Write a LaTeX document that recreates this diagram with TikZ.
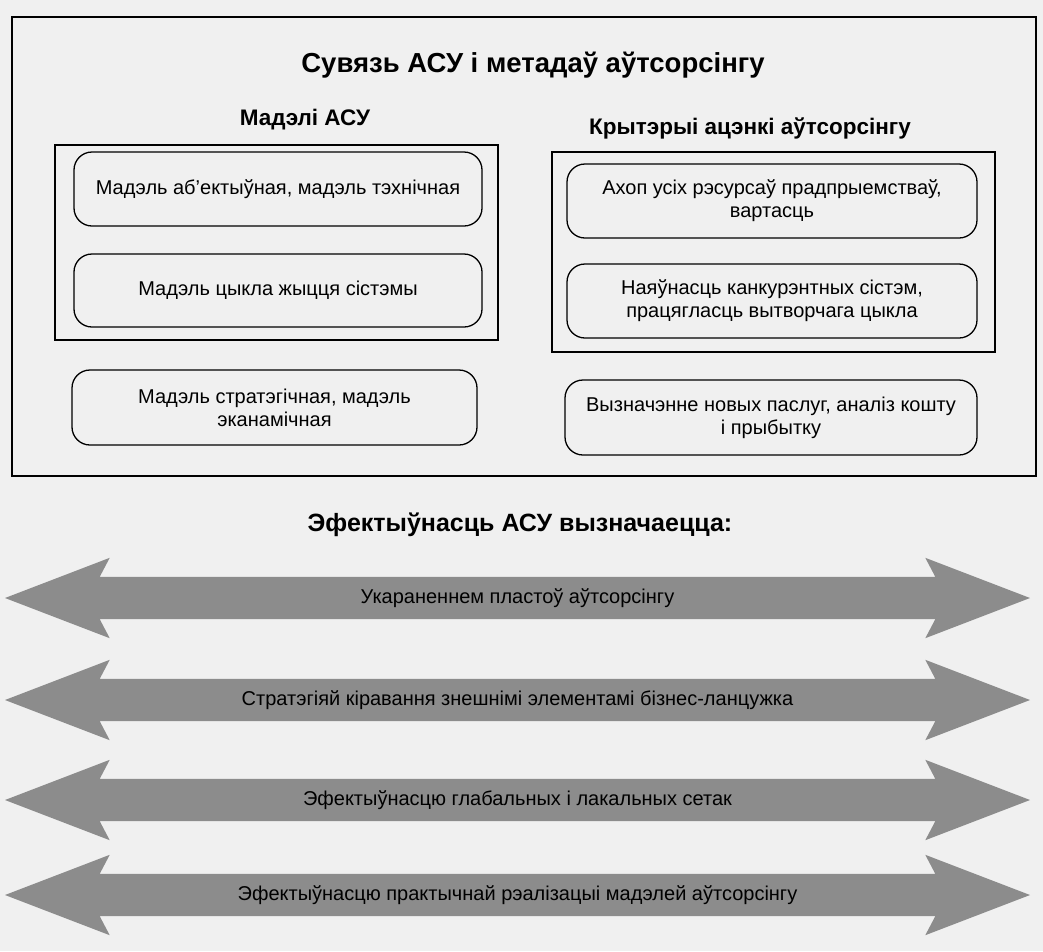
\documentclass[tikz,border=0pt]{standalone}
\usepackage{fontspec}
\setmainfont{Liberation Sans}
\usetikzlibrary{shapes.arrows,positioning}
\begin{document}
\begin{tikzpicture}[x=1pt,y=-1pt,
  mbox/.style={draw, rounded corners=18pt, line width=1.3pt, align=center,
    inner sep=0pt, font=\fontsize{20}{23}\selectfont},
  grp/.style={draw, line width=1.1pt, inner sep=0pt},
  head/.style={font=\bfseries\fontsize{22.5}{26}\selectfont},
  arr/.style={double arrow, fill=black!45, inner xsep=0pt, inner ysep=11pt,
    text height=15pt, text depth=5pt,
    minimum height=1025pt, minimum width=80pt,
    double arrow head extend=19pt, double arrow tip angle=42,
    double arrow head indent=10pt, font=\fontsize{20}{23}\selectfont}]
\fill[black!6] (0,0) rectangle (1043,951);
\useasboundingbox (0,0) rectangle (1043,951);
\node[grp, line width=1.6pt, minimum width=1024pt, minimum height=459pt] (frame) at (524,246.5) {};
\node[font=\bfseries\fontsize{27.5}{32}\selectfont] (title) at (533,65) {Сувязь АСУ і метадаў аўтсорсінгу};
\node[head] (lhead) at (305,120) {Мадэлі АСУ};
\node[head] (rhead) at (750,128) {Крытэрыі ацэнкі аўтсорсінгу};
\node[grp, minimum width=443pt, minimum height=195pt] (lgrp) at (276.5,242.5) {};
\node[grp, minimum width=443pt, minimum height=200pt] (rgrp) at (773.5,252) {};
\node[mbox, minimum width=408pt, minimum height=74pt] (lbox1) at (278,189) {Мадэль аб’ектыўная, мадэль тэхнічная};
\node[mbox, minimum width=408pt, minimum height=73pt] (lbox2) at (278,290.5) {Мадэль цыкла жыцця сістэмы};
\node[mbox, minimum width=405pt, minimum height=75pt] (lbox3) at (274.5,407.5) {Мадэль стратэгічная, мадэль\\ эканамічная};
\node[mbox, minimum width=410pt, minimum height=74pt] (rbox1) at (772,201) {Ахоп усіх рэсурсаў прадпрыемстваў,\\ вартасць};
\node[mbox, minimum width=410pt, minimum height=74pt] (rbox2) at (772,301) {Наяўнасць канкурэнтных сістэм,\\ працягласць вытворчага цыкла};
\node[mbox, minimum width=412pt, minimum height=75pt] (rbox3) at (771,417.5) {Вызначэнне новых паслуг, аналіз коштy\\ і прыбытку};
\node[font=\bfseries\fontsize{25}{30}\selectfont] (effhead) at (520,525) {Эфектыўнасць АСУ вызначаецца:};
\foreach \y/\t [count=\i] in {598/Укараненнем пластоў аўтсорсінгу,
  700/Стратэгіяй кіравання знешнімі элементамі бізнес-ланцужка,
  800/Эфектыўнасцю глабальных і лакальных сетак,
  895/Эфектыўнасцю практычнай рэалізацыі мадэлей аўтсорсінгу}
  \node[arr] (arr\i) at (517.5,\y) {\t};
\end{tikzpicture}
\end{document}
